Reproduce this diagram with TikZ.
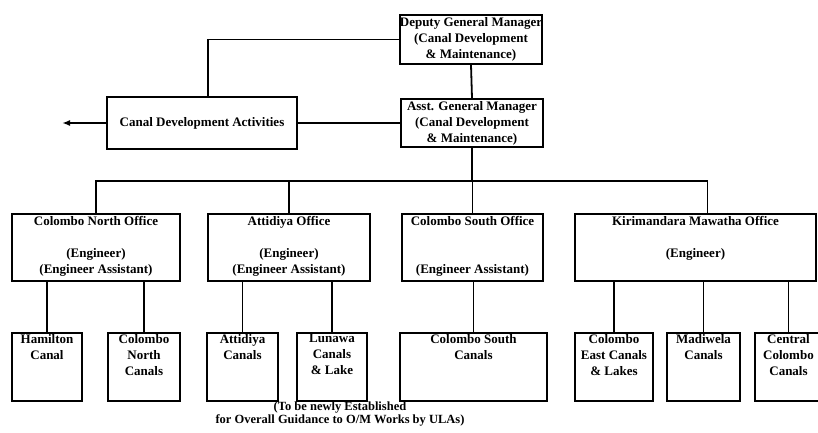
\documentclass[tikz,border=0pt]{standalone}
\usepackage{fontspec}
\setmainfont{Liberation Serif}
\usetikzlibrary{positioning,arrows.meta}

\begin{document}
\begin{tikzpicture}[x=1pt,y=-1pt]
        \tikzstyle{every node}+=[inner sep=0pt]
        \tikzstyle{box}=[draw=black, line width=1.8pt, rectangle]
        \tikzstyle{txt}=[align=center, font=\bfseries\fontsize{13}{16}\selectfont]
        \tikzstyle{wire}=[draw=black, line width=1.8pt]
        \useasboundingbox (0,0) rectangle (818,432);
        % managers
        \node [box, minimum width=142pt, minimum height=49pt] (dgm) at (471,39.5) {};
        \node [txt, below=3pt of dgm.north] (dgmt) {Deputy General Manager\\(Canal Development\\\& Maintenance)};
        \node [box, minimum width=142pt, minimum height=48pt] (agm) at (472,123) {};
        \node [txt, below=3pt of agm.north] (agmt) {Asst. General Manager\\(Canal Development\\\& Maintenance)};
        \node [box, minimum width=190pt, minimum height=52pt] (cda) at (202,123) {};
        \node [txt] (cdat) at (cda.center) {Canal Development Activities};
        \coordinate (out) at (62,123);
        \coordinate (bus) at (0,181);
        % offices
        \node [box, minimum width=168pt, minimum height=67pt] (cno) at (96,247.5) {};
        \node [txt, below=3pt of cno.north] (cnot) {Colombo North Office\\[16pt](Engineer)\\(Engineer Assistant)};
        \node [box, minimum width=162pt, minimum height=67pt] (ato) at (289,247.5) {};
        \node [txt, below=3pt of ato.north] (atot) {Attidiya Office\\[16pt](Engineer)\\(Engineer Assistant)};
        \node [box, minimum width=141pt, minimum height=67pt] (cso) at (472.5,247.5) {};
        \node [txt, below=3pt of cso.north] (csot) {Colombo South Office\\[32pt](Engineer Assistant)};
        \node [box, minimum width=241pt, minimum height=67pt] (kmo) at (695.5,247.5) {};
        \node [txt, below=3pt of kmo.north] (kmot) {Kirimandara Mawatha Office\\[16pt](Engineer)};
        % canals
        \node [box, minimum width=70pt, minimum height=68pt] (ham) at (47,367) {};
        \node [txt, below=2pt of ham.north] (hamt) {Hamilton\\Canal};
        \node [box, minimum width=72pt, minimum height=68pt] (cnc) at (144,367) {};
        \node [txt, below=2pt of cnc.north] (cnct) {Colombo\\North\\Canals};
        \node [box, minimum width=71pt, minimum height=68pt] (atc) at (242.5,367) {};
        \node [txt, below=2pt of atc.north] (atct) {Attidiya\\Canals};
        \node [box, minimum width=70pt, minimum height=68pt] (lun) at (332,367) {};
        \node [txt, below=2pt of lun.north] (lunt) {Lunawa\\Canals\\\& Lake};
        \node [box, minimum width=147pt, minimum height=68pt] (csc) at (473.5,367) {};
        \node [txt, below=2pt of csc.north] (csct) {Colombo South\\Canals};
        \node [box, minimum width=78pt, minimum height=68pt] (cec) at (614,367) {};
        \node [txt, below=2pt of cec.north] (cect) {Colombo\\East Canals\\\& Lakes};
        \node [box, minimum width=73pt, minimum height=68pt] (mad) at (703.5,367) {};
        \node [txt, below=2pt of mad.north] (madt) {Madiwela\\Canals};
        \node [box, minimum width=67pt, minimum height=68pt] (ccc) at (788.5,367) {};
        \node [txt, below=2pt of ccc.north] (ccct) {Central\\Colombo\\Canals};
        \node [txt, font=\bfseries\fontsize{12.5}{12.5}\selectfont] (note) at (340,414) {(To be newly Established\\for Overall Guidance to O/M Works by ULAs)};
        % links
        \draw [wire] (dgm.west) -| ([xshift=6pt]cda.north);
        \draw [wire] (dgm.south) -- (agm.north);
        \draw [wire] (cda.east) -- (agm.west);
        \draw [wire, -{Latex[length=8pt,width=6pt]}] (cda.west) -- (out);
        \draw [wire] (agm.south) -- (agm.south |- bus);
        \draw [wire] (cno.north) -- (cno.north |- bus) -- ([xshift=12pt]kmo.north |- bus) -- ([xshift=12pt]kmo.north);
        \foreach \o in {ato,cso}
            \draw [wire] (\o.north) -- (\o.north |- bus);
        \foreach \o/\c in {cno/ham,cno/cnc,ato/atc,ato/lun,cso/csc,kmo/cec,kmo/mad,kmo/ccc}
            \draw [wire] (\c.north) -- (\c.north |- \o.south);
\end{tikzpicture}
\end{document}
